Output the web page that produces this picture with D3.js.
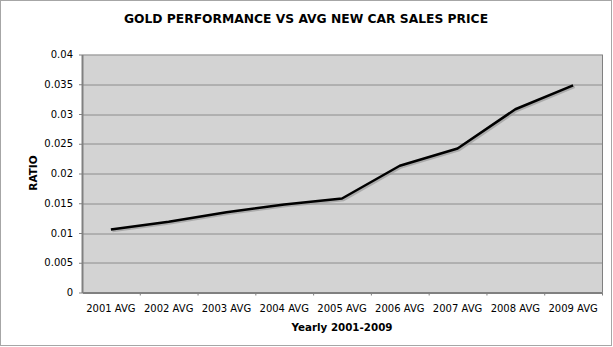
<!DOCTYPE html>
<html>
<head>
<meta charset="utf-8">
<script src="https://cdn.jsdelivr.net/npm/d3@7"></script>
<style>
  body { margin: 0; background: #fff; }
  text { font-family: Verdana, "DejaVu Sans", sans-serif; }
</style>
</head>
<body>
<div id="chart"></div>
<script>
var categories = ["2001 AVG", "2002 AVG", "2003 AVG", "2004 AVG", "2005 AVG", "2006 AVG", "2007 AVG", "2008 AVG", "2009 AVG"];
var ratios = [0.0106, 0.0119, 0.0135, 0.0148, 0.0158, 0.0213, 0.0242, 0.0308, 0.0348];
var yTicks = [0, 0.005, 0.01, 0.015, 0.02, 0.025, 0.03, 0.035, 0.04];

var W = 613, H = 347;
var m = {top: 54.5, right: 11, bottom: 54.5, left: 82}; // margins
var w = W - m.left - m.right;
var h = H - m.top - m.bottom;

var svg = d3.select("#chart").append("svg")
  .attr("width", W)
  .attr("height", H);

// outer frame
svg.append("rect")
  .attr("x", 0.5).attr("y", 0.5)
  .attr("width", W - 2).attr("height", H - 2)
  .attr("fill", "#fff")
  .attr("stroke", "#a6a6a6");

svg.append("text")
  .attr("x", 306)
  .attr("y", 23)
  .attr("text-anchor", "middle")
  .attr("font-size", "12.3px")
  .attr("font-weight", "bold")
  .text("GOLD PERFORMANCE VS AVG NEW CAR SALES PRICE");

var x = d3.scaleBand().domain(categories).range([0, w]);
var y = d3.scaleLinear().domain([0, 0.04]).range([h, 0]);

var g = svg.append("g")
  .attr("transform", "translate(" + m.left + "," + m.top + ")");

g.append("rect")
  .attr("width", w).attr("height", h)
  .attr("fill", "#d3d3d3");

// grid
g.selectAll(".grid")
  .data(yTicks.slice(1))
  .enter().append("line")
  .attr("x1", 0).attr("x2", w)
  .attr("y1", function(d) { return Math.round(y(d)) + 0.5; })
  .attr("y2", function(d) { return Math.round(y(d)) + 0.5; })
  .attr("stroke", "#8c8c8c");

// right border
g.append("line")
  .attr("x1", w + 0.5).attr("x2", w + 0.5)
  .attr("y1", 0).attr("y2", h)
  .attr("stroke", "#808080");

var yAxis = d3.axisLeft(y).tickValues(yTicks).tickSize(3).tickSizeOuter(0)
  .tickFormat(function(d) { return d === 0 ? "0" : String(+d.toFixed(3)); });
var ya = g.append("g").attr("class", "y axis").call(yAxis);
ya.select(".domain").attr("stroke", "#808080").attr("stroke-width", 2);
ya.selectAll(".tick line").attr("stroke", "#808080");
ya.selectAll(".tick text").attr("font-size", "10px").attr("fill", "#000")
  .attr("font-family", "Verdana, 'DejaVu Sans', sans-serif").attr("x", -9);

var xAxis = d3.axisBottom(x).tickSize(0);
var xa = g.append("g").attr("class", "x axis")
  .attr("transform", "translate(0," + h + ")")
  .call(xAxis);
xa.select(".domain").attr("stroke", "#808080").attr("stroke-width", 2);
xa.selectAll(".tick text").attr("font-size", "10px").attr("fill", "#000")
  .attr("font-family", "Verdana, 'DejaVu Sans', sans-serif").attr("dy", "1.6em");

// category boundary ticks
g.selectAll(".bt")
  .data(categories)
  .enter().append("line")
  .attr("x1", function(d) { return x(d) + x.bandwidth() + 0.5; })
  .attr("x2", function(d) { return x(d) + x.bandwidth() + 0.5; })
  .attr("y1", h).attr("y2", h + 3)
  .attr("stroke", "#808080");

var line = d3.line()
  .x(function(d, i) { return x(categories[i]) + x.bandwidth() / 2; })
  .y(function(d) { return y(d); });

// shadow
g.append("path")
  .attr("d", line(ratios))
  .attr("transform", "translate(1.5,1.5)")
  .attr("fill", "none")
  .attr("stroke", "#9a9a9a")
  .attr("stroke-width", 2.5)
  .attr("opacity", 0.7);

g.append("path")
  .attr("d", line(ratios))
  .attr("fill", "none")
  .attr("stroke", "#000")
  .attr("stroke-width", 2.5)
  .attr("stroke-linejoin", "round");

svg.append("text")
  .attr("x", m.left + w / 2)
  .attr("y", 331)
  .attr("text-anchor", "middle")
  .attr("font-size", "10.3px")
  .attr("font-weight", "bold")
  .text("Yearly 2001-2009");

svg.append("text")
  .attr("transform", "translate(37,173) rotate(-90)")
  .attr("text-anchor", "middle")
  .attr("font-size", "10.5px")
  .attr("font-weight", "bold")
  .text("RATIO");
</script>
</body>
</html>
